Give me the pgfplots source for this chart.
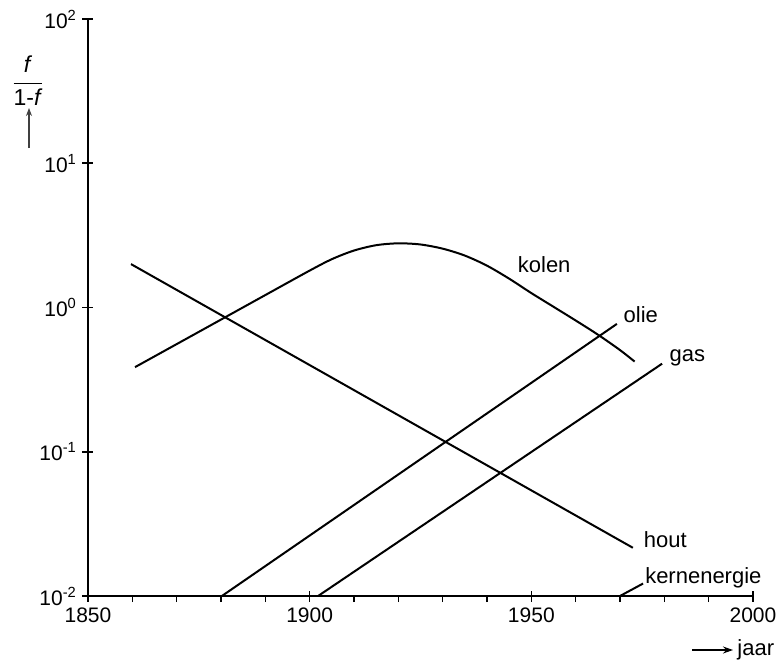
\documentclass[border=0pt]{standalone}
\usepackage{fontspec}
\setmainfont{Liberation Sans}
\usepackage{pgfplots}
\pgfplotsset{compat=1.18}
\usetikzlibrary{arrows.meta}

\begin{document}
\fontsize{11}{13}\selectfont
\begin{tikzpicture}
\useasboundingbox (-44pt,-32.5pt) rectangle (347.5pt,298pt);
\begin{axis}[
  at={(0,0)}, anchor=south west,
  scale only axis, width=332.5pt, height=288.5pt,
  ymode=log,
  xmin=1850, xmax=2000, ymin=0.01, ymax=100,
  axis x line*=bottom, axis y line*=left,
  axis line style={line width=1pt},
  xtick={1850,1900,1950,2000},
  xticklabels={1850,1900,1950,2000},
  minor xtick={1860,1870,1880,1890,1910,1920,1930,1940,1960,1970,1980,1990},
  ytick={0.01,0.1,1,10,100},
  yticklabels={10\textsuperscript{-2},10\textsuperscript{-1},10\textsuperscript{0},10\textsuperscript{1},10\textsuperscript{2}},
  tick label style={font=\fontsize{10.5}{12}\selectfont},
  xticklabel style={yshift=3.3pt},
  yticklabel style={xshift=3.8pt},
  tick align=outside,
  major tick length=5.5pt, minor tick length=3pt,
  tick style={line width=0.8pt, black},
  major x tick style={yshift=2.75pt},
  major y tick style={xshift=2.75pt},
  minor y tick style={draw=none},
  clip=false,
  curve/.style={black, line width=1pt, mark=none},
]
% hout
\addplot[curve] coordinates {(1859.7,2.0) (1972.9,0.0216)};
% kolen
\addplot[curve, smooth] coordinates {
  (1860.6,0.386) (1875,0.678) (1890,1.220) (1900,1.803)
  (1905,2.163) (1910,2.483) (1915,2.704) (1920,2.786)
  (1925,2.735) (1930,2.559) (1935,2.291) (1940,1.950)
  (1945,1.585) (1950,1.259) (1955,1.012) (1960,0.813)
  (1965,0.649) (1970,0.507) (1973.3,0.422)
};
% olie
\addplot[curve] coordinates {(1880.2,0.01) (1969.3,0.77)};
% gas
\addplot[curve] coordinates {(1901.9,0.01) (1979.5,0.408)};
% kernenergie
\addplot[curve] coordinates {(1970,0.01) (1975.2,0.0122)};

\node[anchor=base] at (axis cs:1952.9,1.746) {kolen};
\node[anchor=base] at (axis cs:1974.7,0.785) {olie};
\node[anchor=base] at (axis cs:1985.2,0.422) {gas};
\node[anchor=base] at (axis cs:1980.2,0.0216) {hout};
\node[anchor=base] at (axis cs:1988.8,0.0122) {kernenergie};
\end{axis}

% axis titles with arrows
\node[font=\fontsize{11.5}{14}\selectfont, inner sep=0pt] at (-30pt,257.5pt) {$\displaystyle\frac{\mbox{\textit{f}}}{\mbox{1-\textit{f}}}$};
\draw[-{Stealth[length=4pt,width=3pt]}, line width=0.6pt, black!75] (-29.5pt,224pt) -- (-29.5pt,244pt);
\draw[-{Stealth[length=5pt,width=3.5pt]}, line width=0.6pt] (302pt,-27pt) -- (322.5pt,-27pt);
\node[anchor=base west, inner sep=0pt] at (324.5pt,-29.8pt) {jaar};
\end{tikzpicture}
\end{document}
